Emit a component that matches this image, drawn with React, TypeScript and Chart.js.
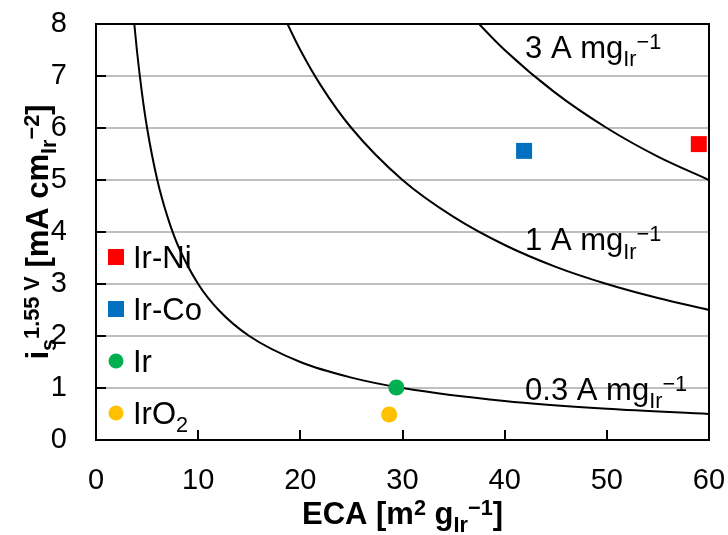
import React, { useEffect, useRef } from 'react';
import { Chart, registerables } from 'chart.js';

Chart.register(...registerables);

// Axis ranges / ticks
const xMin = 0;
const xMax = 60;
const xStep = 10;
const yMin = 0;
const yMax = 8;
const yStep = 1;

// Iso mass-activity curves
const curve03X = [3.5, 3.75, 4, 4.5, 5, 6, 7, 8, 10, 12, 15, 20, 25, 30, 40, 50, 60];
const curve03Y = [8.57, 8, 7.5, 6.67, 6, 5, 4.29, 3.75, 3, 2.5, 2, 1.5, 1.2, 1, 0.75, 0.6, 0.5];
const curve1X = [18, 18.75, 20, 22, 25, 30, 35, 40, 45, 50, 55, 60];
const curve1Y = [8.33, 8, 7.5, 6.82, 6, 5, 4.29, 3.75, 3.33, 3, 2.73, 2.5];
const curve3X = [36, 37.5, 40, 45, 50, 55, 60];
const curve3Y = [8.33, 8, 7.5, 6.67, 6, 5.45, 5];

const curveLabelValues = ['0.3', '1', '3'];

// Samples
const sampleNames = ['Ir-Ni', 'Ir-Co', 'Ir', 'IrO2'];
const sampleECA = [59.0, 41.9, 29.4, 28.7];
const sampleIs = [5.69, 5.56, 1.01, 0.49];
const sampleColors = ['#FF0000', '#0070C0', '#00B050', '#FFC000'];
const sampleShapes = ['rect', 'rect', 'circle', 'circle'];

const FAM = '"Liberation Sans", Arial, sans-serif';

type Seg = { t: string; k?: 'sub' | 'sup' };

function drawRich(
  ctx: CanvasRenderingContext2D,
  segs: Seg[],
  x: number,
  y: number,
  size: number,
  bold: boolean,
  align: 'left' | 'center'
) {
  const small = size * 0.7;
  const f = (s: number) => `${bold ? 'bold ' : ''}${s}px ${FAM}`;
  let w = 0;
  for (const s of segs) {
    ctx.font = f(s.k ? small : size);
    w += ctx.measureText(s.t).width;
  }
  let cx = align === 'center' ? x - w / 2 : x;
  ctx.textAlign = 'left';
  ctx.textBaseline = 'alphabetic';
  for (const s of segs) {
    ctx.font = f(s.k ? small : size);
    const dy = s.k === 'sub' ? size * 0.27 : s.k === 'sup' ? -size * 0.3 : 0;
    ctx.fillText(s.t, cx, y + dy);
    cx += ctx.measureText(s.t).width;
  }
}

function legendSegs(name: string): Seg[] {
  if (name === 'IrO2') return [{ t: 'IrO' }, { t: '2', k: 'sub' }];
  return [{ t: name }];
}

const decoPlugin = {
  id: 'deco',
  afterDatasetsDraw(chart: any) {
    const ctx: CanvasRenderingContext2D = chart.ctx;
    const { left, right, top, bottom } = chart.chartArea;
    const xs = chart.scales.x;
    const ys = chart.scales.y;
    ctx.save();
    ctx.fillStyle = '#000';
    ctx.strokeStyle = '#000';

    // plot border
    ctx.lineWidth = 2;
    ctx.strokeRect(left, top, right - left, bottom - top);

    // inward tick marks
    ctx.beginPath();
    for (let v = xMin + xStep; v < xMax; v += xStep) {
      const px = Math.round(xs.getPixelForValue(v));
      ctx.moveTo(px, bottom);
      ctx.lineTo(px, bottom - 10);
    }
    for (let v = yMin + yStep; v < yMax; v += yStep) {
      const py = Math.round(ys.getPixelForValue(v));
      ctx.moveTo(left, py);
      ctx.lineTo(left + 10, py);
    }
    ctx.stroke();

    // curve labels
    const labelPos = [
      { x: 42.0, y: 0.77 },
      { x: 42.0, y: 3.65 },
      { x: 42.0, y: 7.35 },
    ];
    curveLabelValues.forEach((v, i) => {
      const px = xs.getPixelForValue(labelPos[i].x);
      const py = ys.getPixelForValue(labelPos[i].y);
      drawRich(ctx, [{ t: `${v} A mg` }, { t: 'Ir', k: 'sub' }, { t: '−1', k: 'sup' }], px, py, 31, false, 'left');
    });

    // legend
    const legY = [257, 309, 361, 413];
    sampleNames.forEach((n, i) => {
      ctx.fillStyle = sampleColors[i];
      if (sampleShapes[i] === 'rect') {
        ctx.fillRect(108, legY[i] - 8, 16, 16);
      } else {
        ctx.beginPath();
        ctx.arc(116, legY[i], 7.5, 0, Math.PI * 2);
        ctx.fill();
      }
      ctx.fillStyle = '#000';
      drawRich(ctx, legendSegs(n), 133, legY[i] + 11, 31, false, 'left');
    });

    // x title
    drawRich(
      ctx,
      [{ t: 'ECA [m' }, { t: '2', k: 'sup' }, { t: ' g' }, { t: 'Ir', k: 'sub' }, { t: '−1', k: 'sup' }, { t: ']' }],
      (left + right) / 2,
      524,
      31,
      true,
      'center'
    );

    // y title
    ctx.save();
    ctx.translate(48, (top + bottom) / 2);
    ctx.rotate(-Math.PI / 2);
    drawRich(
      ctx,
      [
        { t: 'i' },
        { t: 's', k: 'sub' },
        { t: '1.55 V', k: 'sup' },
        { t: ' [mA cm' },
        { t: 'Ir', k: 'sub' },
        { t: '−2', k: 'sup' },
        { t: ']' },
      ],
      0,
      0,
      31,
      true,
      'center'
    );
    ctx.restore();

    ctx.restore();
  },
};

function toPts(xs: number[], ys: number[]) {
  return xs.map((x, i) => ({ x, y: ys[i] }));
}

function zeroPad(s: any) {
  s.paddingTop = 0;
  s.paddingBottom = 0;
  s.paddingLeft = 0;
  s.paddingRight = 0;
}

export default function App() {
  const ref = useRef<HTMLCanvasElement | null>(null);
  useEffect(() => {
    if (!ref.current) return;
    const curveStyle = {
      showLine: true,
      pointRadius: 0,
      borderColor: '#000',
      borderWidth: 2,
      cubicInterpolationMode: 'monotone' as const,
      order: 2,
      fill: false,
    };
    const chart = new Chart(ref.current, {
      type: 'scatter',
      data: {
        datasets: [
          ...sampleNames.map((n, i) => ({
            label: n,
            data: [{ x: sampleECA[i], y: sampleIs[i] }],
            pointStyle: sampleShapes[i],
            pointRadius: sampleShapes[i] === 'rect' ? 11.3 : 8,
            backgroundColor: sampleColors[i],
            borderWidth: 0,
            order: 1,
          })),
          { label: '0.3', data: toPts(curve03X, curve03Y), ...curveStyle },
          { label: '1', data: toPts(curve1X, curve1Y), ...curveStyle },
          { label: '3', data: toPts(curve3X, curve3Y), ...curveStyle },
        ] as any,
      },
      options: {
        animation: false,
        responsive: false,
        devicePixelRatio: 1,
        layout: { padding: { top: 24, right: 19, left: 0, bottom: 0 } },
        plugins: { legend: { display: false }, tooltip: { enabled: false } },
        scales: {
          x: {
            type: 'linear',
            min: xMin,
            max: xMax,
            ticks: { stepSize: xStep, color: '#000', font: { size: 29, family: FAM }, padding: 16 },
            grid: { display: false },
            border: { display: false },
            afterFit: (s: any) => {
              s.height = 95;
              zeroPad(s);
            },
          },
          y: {
            type: 'linear',
            min: yMin,
            max: yMax,
            ticks: { stepSize: yStep, color: '#000', font: { size: 29, family: FAM }, padding: 29 },
            grid: { color: '#BFBFBF', lineWidth: 2, drawTicks: false },
            border: { display: false },
            afterFit: (s: any) => {
              s.width = 96;
              zeroPad(s);
            },
          },
        },
      },
      plugins: [decoPlugin],
    });
    return () => chart.destroy();
  }, []);
  return (
    <div style={{ position: 'fixed', left: 0, top: 0, width: 728, height: 535, background: '#fff' }}>
      <canvas ref={ref} width={728} height={535} style={{ width: 728, height: 535, display: 'block' }} />
    </div>
  );
}
